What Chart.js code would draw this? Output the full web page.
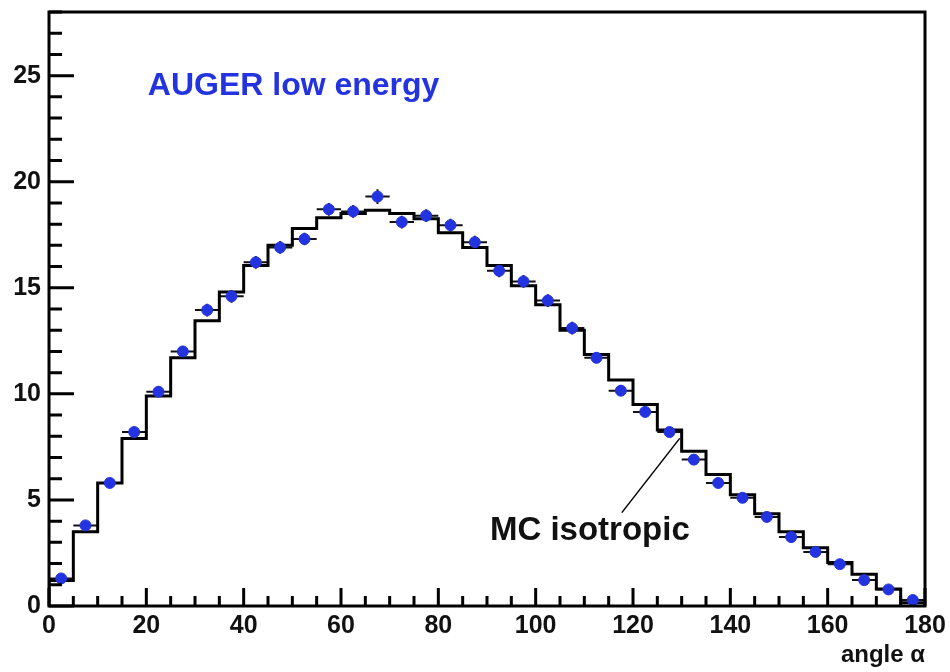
<!DOCTYPE html>
<html>
<head>
<meta charset="utf-8">
<script src="https://cdn.jsdelivr.net/npm/chart.js@4/dist/chart.umd.min.js"></script>
<style>
  html, body { margin: 0; padding: 0; background: #fff; }
  #wrap { width: 950px; height: 672px; }
</style>
</head>
<body>
<div id="wrap"><canvas id="histChart"></canvas></div>
<script>
// bins of 5 degrees, 0..180
const binEdges = [0,5,10,15,20,25,30,35,40,45,50,55,60,65,70,75,80,85,90,95,100,105,110,115,120,125,130,135,140,145,150,155,160,165,170,175,180];
const binCenters = [2.5,7.5,12.5,17.5,22.5,27.5,32.5,37.5,42.5,47.5,52.5,57.5,62.5,67.5,72.5,77.5,82.5,87.5,92.5,97.5,102.5,107.5,112.5,117.5,122.5,127.5,132.5,137.5,142.5,147.5,152.5,157.5,162.5,167.5,172.5,177.5];
const augerData = [1.3,3.8,5.8,8.2,10.1,12.0,13.95,14.6,16.2,16.9,17.3,18.7,18.6,19.3,18.1,18.4,17.95,17.15,15.8,15.3,14.4,13.1,11.7,10.15,9.15,8.2,6.9,5.8,5.1,4.2,3.25,2.55,1.97,1.22,0.78,0.28];
const augerErr = [0.15,0.2,0.2,0.25,0.25,0.25,0.3,0.3,0.3,0.3,0.3,0.3,0.3,0.35,0.3,0.3,0.3,0.3,0.3,0.3,0.3,0.3,0.25,0.25,0.25,0.25,0.25,0.2,0.2,0.2,0.2,0.15,0.15,0.15,0.1,0.1];
const mcIso = [1.2,3.5,5.8,7.9,9.9,11.7,13.45,14.8,16.05,17.0,17.8,18.3,18.5,18.65,18.5,18.25,17.6,16.9,16.05,15.1,14.2,13.0,11.85,10.65,9.5,8.3,7.3,6.2,5.25,4.35,3.5,2.75,2.05,1.5,0.8,0.15];
const xMajorTicks = [0,20,40,60,80,100,120,140,160,180];
const yMajorTicks = [0,5,10,15,20,25];

const FONT = '"Liberation Sans", Arial, sans-serif';
const BLUE = '#2333e0';

// histogram outline: each point is a bin's left edge, drawn with 'before' steps
const stepPoints = [{x: 0, y: 0}];
mcIso.forEach(function(v, i) { stepPoints.push({x: binEdges[i], y: v}); });
stepPoints.push({x: 180, y: 0});

const pointData = binCenters.map(function(x, i) { return {x: x, y: augerData[i]}; });

const rootStyle = {
  id: 'rootStyle',
  beforeDatasetsDraw(chart) {
    const ctx = chart.ctx, xs = chart.scales.x, ys = chart.scales.y;
    ctx.save();
    ctx.strokeStyle = '#111';
    ctx.lineWidth = 2;
    binCenters.forEach(function(c, i) {
      const px = xs.getPixelForValue(c);
      const py = ys.getPixelForValue(augerData[i]);
      ctx.beginPath();
      ctx.moveTo(xs.getPixelForValue(c - 2.5), py);
      ctx.lineTo(xs.getPixelForValue(c + 2.5), py);
      ctx.moveTo(px, ys.getPixelForValue(augerData[i] - augerErr[i]));
      ctx.lineTo(px, ys.getPixelForValue(augerData[i] + augerErr[i]));
      ctx.stroke();
    });
    ctx.restore();
  },
  afterDraw(chart) {
    const ctx = chart.ctx, xs = chart.scales.x, ys = chart.scales.y, a = chart.chartArea;
    ctx.save();
    ctx.strokeStyle = '#000';
    ctx.lineWidth = 3;
    ctx.strokeRect(a.left, a.top, a.right - a.left, a.bottom - a.top);

    // inward ticks, ROOT style
    ctx.beginPath();
    for (let v = 0; v <= 28; v++) {
      const py = ys.getPixelForValue(v);
      const len = v % 5 === 0 ? 25 : 13;
      ctx.moveTo(a.left, py);
      ctx.lineTo(a.left + len, py);
    }
    for (let v = 0; v <= 180; v += 5) {
      const px = xs.getPixelForValue(v);
      const len = v % 20 === 0 ? 18 : 10;
      ctx.moveTo(px, a.bottom);
      ctx.lineTo(px, a.bottom - len);
    }
    ctx.stroke();

    // pointer from label to MC histogram
    ctx.lineWidth = 1.5;
    ctx.beginPath();
    ctx.moveTo(xs.getPixelForValue(117.7), ys.getPixelForValue(4.4));
    ctx.lineTo(xs.getPixelForValue(129.6), ys.getPixelForValue(7.9));
    ctx.stroke();

    ctx.textBaseline = 'middle';
    ctx.textAlign = 'left';
    ctx.font = 'bold 32px ' + FONT;
    ctx.fillStyle = BLUE;
    ctx.fillText('AUGER low energy', xs.getPixelForValue(20.3), ys.getPixelForValue(24.5));
    ctx.fillStyle = '#111';
    ctx.font = 'bold 33px ' + FONT;
    ctx.fillText('MC isotropic', xs.getPixelForValue(90.6), ys.getPixelForValue(3.55));

    ctx.font = 'bold 24px ' + FONT;
    ctx.textAlign = 'right';
    ctx.fillText('angle \u03b1', 925, 655);
    ctx.restore();
  }
};

new Chart(document.getElementById('histChart'), {
  type: 'scatter',
  data: {
    datasets: [
      {
        type: 'line',
        label: 'MC isotropic',
        data: stepPoints,
        stepped: 'before',
        borderColor: '#000',
        borderWidth: 3,
        pointRadius: 0,
        fill: false,
        order: 2
      },
      {
        label: 'AUGER low energy',
        data: pointData,
        backgroundColor: BLUE,
        borderColor: BLUE,
        pointRadius: 5.5,
        pointHoverRadius: 5.5,
        order: 1
      }
    ]
  },
  options: {
    responsive: true,
    maintainAspectRatio: false,
    animation: false,
    layout: { padding: { top: 12, right: 25, left: 0, bottom: 0 } },
    plugins: { legend: { display: false }, tooltip: { enabled: false } },
    scales: {
      x: {
        type: 'linear',
        min: 0, max: 180,
        grid: { display: false, drawTicks: false },
        border: { display: false },
        afterBuildTicks: function(s) { s.ticks = xMajorTicks.map(function(v) { return {value: v}; }); },
        afterFit: function(s) { s.height = 66; s.paddingLeft = 0; s.paddingRight = 0; },
        ticks: {
          padding: 5,
          maxRotation: 0,
          color: '#111',
          font: { family: FONT, size: 25, weight: 'bold' }
        }
      },
      y: {
        min: 0, max: 28,
        grid: { display: false, drawTicks: false },
        border: { display: false },
        afterBuildTicks: function(s) { s.ticks = yMajorTicks.map(function(v) { return {value: v}; }); },
        afterFit: function(s) { s.width = 49; s.paddingTop = 0; s.paddingBottom = 0; },
        ticks: {
          padding: 8,
          color: '#111',
          font: { family: FONT, size: 25, weight: 'bold' }
        }
      }
    }
  },
  plugins: [rootStyle]
});
</script>
</body>
</html>
